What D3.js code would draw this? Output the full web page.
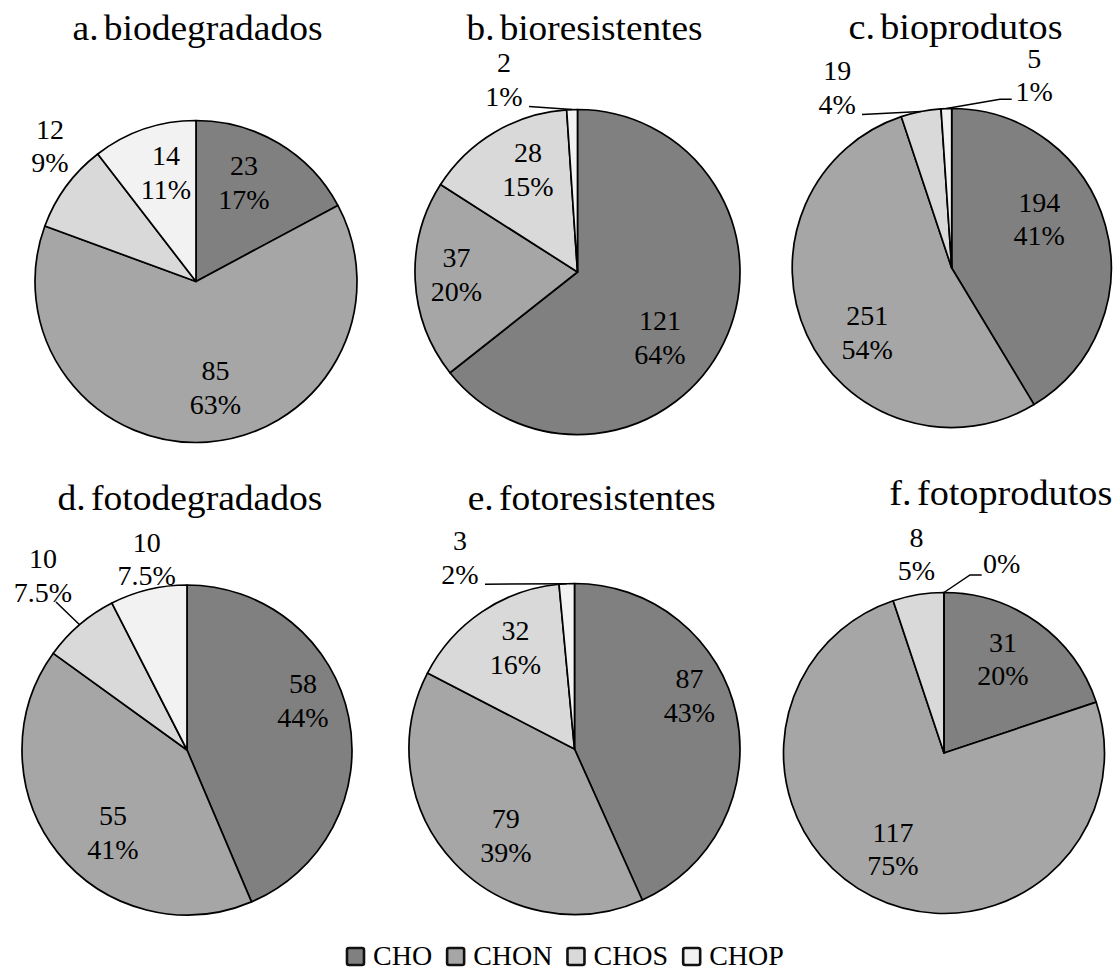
<!DOCTYPE html>
<html>
<head>
<meta charset="utf-8">
<script src="https://cdn.jsdelivr.net/npm/d3@7"></script>
<style>
  body { margin: 0; background: #fff; }
  text { font-family: "Liberation Serif", "Times New Roman", serif; fill: #000; }
</style>
</head>
<body>
<svg id="chart" width="1116" height="970"></svg>
<script>
// ---- data ----
const categories = ["CHO", "CHON", "CHOS", "CHOP"];
const panelTitles = ["a. biodegradados", "b. bioresistentes", "c. bioprodutos",
                     "d. fotodegradados", "e. fotoresistentes", "f. fotoprodutos"];

const countsBiodegradados   = [23, 85, 12, 14];
const countsBioresistentes  = [121, 37, 28, 2];
const countsBioprodutos     = [194, 251, 19, 5];
const countsFotodegradados  = [58, 55, 10, 10];
const countsFotoresistentes = [87, 79, 32, 3];
const countsFotoprodutos    = [31, 117, 8, 0];

const pctBiodegradados   = ["17%", "63%", "9%", "11%"];
const pctBioresistentes  = ["64%", "20%", "15%", "1%"];
const pctBioprodutos     = ["41%", "54%", "4%", "1%"];
const pctFotodegradados  = ["44%", "41%", "7.5%", "7.5%"];
const pctFotoresistentes = ["43%", "39%", "16%", "2%"];
const pctFotoprodutos    = ["20%", "75%", "5%", "0%"];

const panelCounts = [countsBiodegradados, countsBioresistentes, countsBioprodutos,
                     countsFotodegradados, countsFotoresistentes, countsFotoprodutos];
const panelPcts = [pctBiodegradados, pctBioresistentes, pctBioprodutos,
                   pctFotodegradados, pctFotoresistentes, pctFotoprodutos];

// ---- layout ----
const fills = ["#808080", "#a6a6a6", "#d9d9d9", "#f2f2f2"];
// pie centre / radius, title centre / baseline / width
const frames = [
  { cx: 196,   cy: 281.5, r: 161,   tx: 197.5,  ty: 39.5,  tw: 250 },
  { cx: 577.5, cy: 272,   r: 162.5, tx: 584.5,  ty: 39.5,  tw: 236 },
  { cx: 951.7, cy: 268,   r: 159.5, tx: 955.5,  ty: 38.5,  tw: 214 },
  { cx: 187,   cy: 750,   r: 165,   tx: 190,    ty: 509.5, tw: 265 },
  { cx: 574.5, cy: 749,   r: 165.5, tx: 591.7,  ty: 509.5, tw: 248 },
  { cx: 944,   cy: 753,   r: 160.5, tx: 1000.8, ty: 505,   tw: 223 }
];
// label anchor (centre x, first baseline) relative to the pie centre
const labelSpots = [
  [[48, -106.5], [19.5, 98.5], [-146, -143], [-30, -116.5]],
  [[82.5, 58], [-121, -5], [-49.5, -110], [-73.5, -200]],
  [[87.5, -56.5], [-84.5, 57], [-114.5, -188], [82.5, -200.5]],
  [[116, -56.7], [-74, 75], [-144, -181.7], [-40.3, -198.3]],
  [[115, -60.7], [-68.7, 79.3], [-59, -109], [-114.5, -199]],
  [[59, -101.3], [-51, 88.7], [-27.5, -206.3], [39, -179.7]]
];
// leader lines: label-side points relative to the pie centre, ending on the slice edge
const leaders = [
  { panel: 1, slice: 3, pts: [[-48.5, -165.5]] },
  { panel: 2, slice: 2, pts: [[-89.7, -153.5]] },
  { panel: 2, slice: 3, pts: [[60, -168.7], [48.3, -168.7]] },
  { panel: 3, slice: 2, pts: [[-131, -148]] },
  { panel: 4, slice: 3, pts: [[-89.5, -164.8]] },
  { panel: 5, slice: 3, pts: [[37.7, -178], [26, -178]] }
];

const svg = d3.select("#chart");
const color = d3.scaleOrdinal().domain(categories).range(fills);
const pie = d3.pie().sort(null).value(d => d.value);
const lineH = 33.5;

panelCounts.forEach((counts, p) => {
  const f = frames[p];
  const rows = categories.map((c, i) => ({ cat: c, value: counts[i], pct: panelPcts[p][i] }));
  const arcs = pie(rows);
  const arc = d3.arc().innerRadius(0).outerRadius(f.r);

  const g = svg.append("g").attr("transform", `translate(${f.cx},${f.cy})`);

  g.selectAll("path.slice")
    .data(arcs)
    .join("path")
    .attr("class", "slice")
    .attr("d", arc)
    .attr("fill", d => color(d.data.cat))
    .attr("stroke", "#000")
    .attr("stroke-width", 1.7)
    .attr("stroke-linejoin", "round");

  // leader lines
  leaders.filter(l => l.panel === p).forEach(l => {
    const a = arcs[l.slice];
    const mid = (a.startAngle + a.endAngle) / 2;
    const end = [f.r * Math.sin(mid), -f.r * Math.cos(mid)];
    g.append("path")
      .attr("d", d3.line()(l.pts.concat([end])))
      .attr("fill", "none")
      .attr("stroke", "#000")
      .attr("stroke-width", 1.5);
  });

  // data labels
  arcs.forEach((a, i) => {
    const [lx, ly] = labelSpots[p][i];
    const t = g.append("text")
      .attr("font-size", 28)
      .attr("text-anchor", a.data.value === 0 ? "start" : "middle");
    if (a.data.value === 0) {
      t.append("tspan").attr("x", lx).attr("y", ly).text(a.data.pct);
    } else {
      t.append("tspan").attr("x", lx).attr("y", ly).text(a.data.value);
      t.append("tspan").attr("x", lx).attr("y", ly + lineH).text(a.data.pct);
    }
  });

  // panel title
  svg.append("text")
    .attr("x", f.tx).attr("y", f.ty)
    .attr("text-anchor", "middle")
    .attr("font-size", 36)
    .attr("word-spacing", -4)
    .attr("textLength", f.tw)
    .attr("lengthAdjust", "spacingAndGlyphs")
    .text(panelTitles[p]);
});

// legend
const legend = svg.append("g");
let lx = 347;
categories.forEach(c => {
  legend.append("rect")
    .attr("x", lx).attr("y", 948)
    .attr("width", 17).attr("height", 17)
    .attr("rx", 2)
    .attr("fill", color(c))
    .attr("stroke", "#111")
    .attr("stroke-width", 2.6);
  const t = legend.append("text")
    .attr("x", lx + 26).attr("y", 965)
    .attr("font-size", 28)
    .text(c);
  lx += 26 + t.node().getComputedTextLength() + 15;
});
</script>
</body>
</html>
